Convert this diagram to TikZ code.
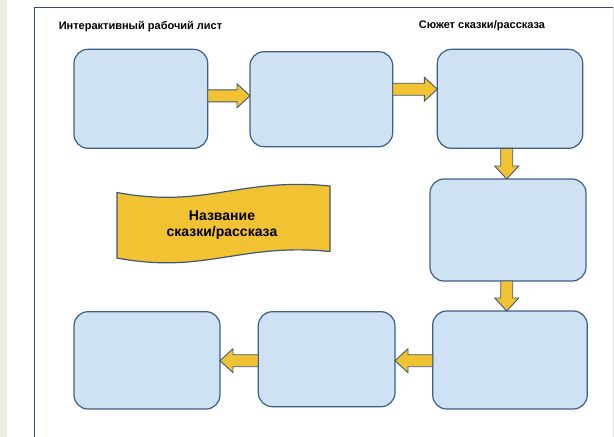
\documentclass[tikz,border=0pt]{standalone}
\usepackage{fontspec}
\setmainfont{Liberation Sans}
\usepackage{tikz}
\usetikzlibrary{calc,fit,positioning}

\definecolor{boxfill}{RGB}{207,226,243}
\definecolor{boxline}{RGB}{58,95,138}
\definecolor{arrowfill}{RGB}{241,194,50}
\definecolor{arrowline}{RGB}{62,88,118}
\definecolor{framecol}{RGB}{47,75,120}
\definecolor{stripcol}{RGB}{238,236,225}

\newcommand{\blockarrow}[2]{
	\coordinate (s) at (#1);
	\coordinate (t) at (#2);
	\coordinate (h) at ($(t)!13pt!(s)$);
	\draw[blockarrow] ($(s)!6pt!90:(t)$) -- ($(h)!6pt!-90:(s)$) -- ($(h)!12pt!-90:(s)$) -- (t)
		-- ($(h)!12pt!90:(s)$) -- ($(h)!6pt!90:(s)$) -- ($(s)!6pt!-90:(t)$) -- cycle;
}

\begin{document}
\begin{tikzpicture}[x=1pt,y=-1pt,font=\bfseries, every fit/.style={inner sep=0pt, outer sep=0pt}]
			\tikzstyle{box}=[draw=boxline, fill=boxfill, line width=1.2pt, rounded corners=14pt]
			\tikzstyle{blockarrow}=[draw=arrowline, fill=arrowfill, line width=0.9pt, line join=miter]
			\tikzstyle{title}=[font=\fontsize{11}{13}\selectfont\bfseries, inner sep=0pt]

			\useasboundingbox (0,0) rectangle (614,437);
			\fill[stripcol] (0,0) rectangle (7.3,437);
			\draw[framecol, line width=1.2pt] (34.3,437) -- (34.3,7.3) -- (613,7.3);
			\draw[black!12, line width=1pt] (613,7.3) -- (613,437);

			\node [title] (sheet) at (140.5,27) {Интерактивный рабочий лист};
			\node [title] (plot) at (482,26) {Сюжет сказки/рассказа};

			\begin{scope}
				\node [box, fit={(74,49.3) (207.7,148.3)}] (b1) {};
				\node [box, fit={(250,51.7) (392.7,146.7)}] (b2) {};
				\node [box, fit={(437.3,49.3) (582.7,148.3)}] (b3) {};
				\node [box, fit={(430,179) (586,281)}] (b4) {};
				\node [box, fit={(432.7,311) (587.3,409)}] (b5) {};
				\node [box, fit={(258.3,311.7) (395,406.7)}] (b6) {};
				\node [box, fit={(74,311.7) (220,409)}] (b7) {};
			\end{scope}

			\blockarrow{[yshift=3pt]b1.east}{s -| b2.west}
			\blockarrow{[yshift=10pt]b2.east}{s -| b3.west}
			\blockarrow{[xshift=-3.3pt]b3.south}{s |- b4.north}
			\blockarrow{[xshift=-1.3pt]b4.south}{s |- b5.north}
			\blockarrow{[yshift=-0.7pt]b5.west}{s -| b6.east}
			\blockarrow{[yshift=-1.5pt]b6.west}{s -| b7.east}

			\draw[draw=arrowline, fill=arrowfill, line width=1.2pt] (117,192.5) .. controls (205,209) and (240,177) .. (330,186)
				-- (330,251.5) .. controls (240,242.5) and (205,274.5) .. (117,258) -- cycle;
			\node [align=center, font=\fontsize{14}{16.6}\selectfont\bfseries] (story) at (222,225) {Название\\сказки/рассказа};
		\end{tikzpicture}
\end{document}
